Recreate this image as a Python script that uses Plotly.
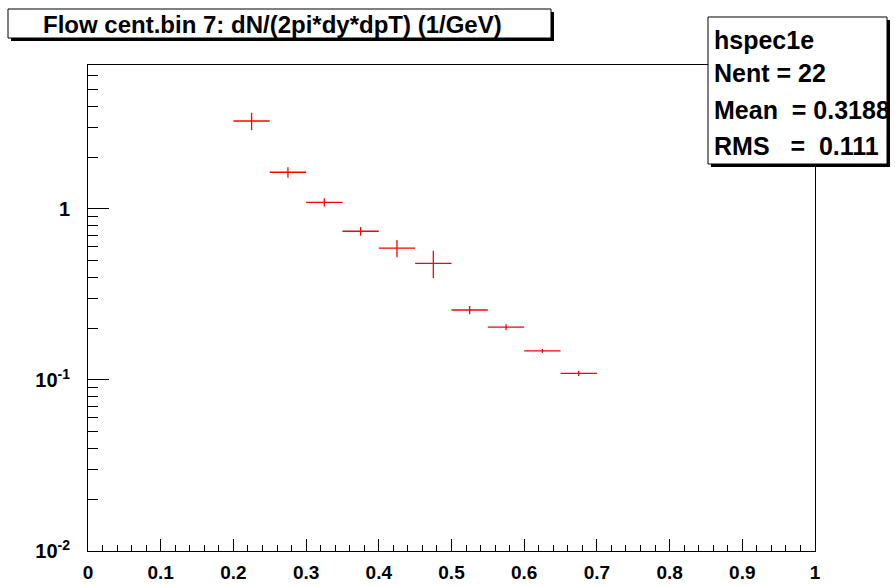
import plotly.graph_objects as go

# data
pt_centers = [0.225, 0.275, 0.325, 0.375, 0.425, 0.475, 0.525, 0.575, 0.625, 0.675]
dndpt = [3.27, 1.64, 1.094, 0.741, 0.591, 0.481, 0.2566, 0.204, 0.148, 0.1094]
dndpt_err = [0.38, 0.115, 0.06, 0.043, 0.068, 0.088, 0.014, 0.008, 0.004, 0.004]
bin_half = [0.025] * len(pt_centers)

x_ticks = [0, 0.1, 0.2, 0.3, 0.4, 0.5, 0.6, 0.7, 0.8, 0.9, 1]
x_ticktext = ["0", "0.1", "0.2", "0.3", "0.4", "0.5", "0.6", "0.7", "0.8", "0.9", "1"]
y_ticks = [0.01, 0.1, 1]
y_ticktext = ["10<sup>-2</sup>", "10<sup>-1</sup>", "1"]

title_text = "Flow cent.bin 7: dN/(2pi*dy*dpT) (1/GeV)"
stats_lines = ["hspec1e", "Nent = 22", "Mean  = 0.3188", "RMS   =  0.111"]

W, H = 895, 587
L, T = 88, 65
R = W - 815
B = H - 551
PW, PH = W - L - R, H - T - B

def px(x):
    return (x - L) / PW

def py(y):
    return (H - B - y) / PH

FAM = "Liberation Sans, Arial, sans-serif"

fig = go.Figure()
fig.add_trace(go.Scatter(
    x=pt_centers, y=dndpt, mode="markers",
    marker=dict(size=1, color="red", opacity=0),
    error_x=dict(type="data", array=bin_half, color="red", thickness=1.3, width=0),
    error_y=dict(type="data", array=dndpt_err, color="red", thickness=1.3, width=0),
    showlegend=False, hoverinfo="skip",
))

fig.update_layout(
    width=W, height=H,
    margin=dict(l=L, r=R, t=T, b=B, pad=0, autoexpand=False),
    paper_bgcolor="white", plot_bgcolor="white",
    xaxis=dict(
        range=[0, 1], tickvals=x_ticks, ticktext=x_ticktext, automargin=False,
        ticks="inside", ticklen=12, tickwidth=1, tickcolor="black",
        minor=dict(dtick=0.02, ticks="inside", ticklen=6, tickcolor="black", tickwidth=1),
        showline=True, linecolor="black", linewidth=1, mirror=True,
        showgrid=False, zeroline=False, ticklabelstandoff=4,
        tickfont=dict(family=FAM, size=19, color="black", weight="bold"),
    ),
    yaxis=dict(
        type="log", range=[-2, 0.842], tickvals=y_ticks, ticktext=y_ticktext, automargin=False,
        ticks="inside", ticklen=21, tickwidth=1, tickcolor="black",
        minor=dict(dtick="D1", ticks="inside", ticklen=10, tickcolor="black", tickwidth=1),
        showline=True, linecolor="black", linewidth=1, mirror=True,
        showgrid=False, zeroline=False, ticklabelstandoff=13,
        tickfont=dict(family=FAM, size=20, color="black", weight="bold"),
    ),
)

shapes = []
# title box with shadow
shapes.append(dict(type="rect", xref="paper", yref="paper", x0=px(11), x1=px(554), y0=py(12), y1=py(41),
                   line=dict(width=0), fillcolor="black", layer="above"))
shapes.append(dict(type="rect", xref="paper", yref="paper", x0=px(8), x1=px(551), y0=py(9), y1=py(38),
                   line=dict(width=1, color="black"), fillcolor="white", layer="above"))
# stats box with shadow
shapes.append(dict(type="rect", xref="paper", yref="paper", x0=px(711), x1=px(890), y0=py(20), y1=py(167),
                   line=dict(width=0), fillcolor="black", layer="above"))
shapes.append(dict(type="rect", xref="paper", yref="paper", x0=px(708), x1=px(887), y0=py(17), y1=py(164),
                   line=dict(width=1, color="black"), fillcolor="white", layer="above"))
fig.update_layout(shapes=shapes)

annotations = [dict(text=title_text, xref="paper", yref="paper", x=px(272), y=py(24),
                    xanchor="center", yanchor="middle", showarrow=False,
                    font=dict(family=FAM, size=24, color="black", weight="bold"))]
ys = [40, 73, 110, 146]
for t, yy in zip(stats_lines, ys):
    annotations.append(dict(text=t.replace(" ", "&nbsp;"), xref="paper", yref="paper", x=px(712), y=py(yy),
                            xanchor="left", yanchor="middle", showarrow=False,
                            font=dict(family=FAM, size=25, color="black", weight="bold")))
fig.update_layout(annotations=annotations)

fig.write_html("out.html", config={"displayModeBar": False},
               post_script="document.body.style.margin='0';document.body.style.overflow='hidden';")
